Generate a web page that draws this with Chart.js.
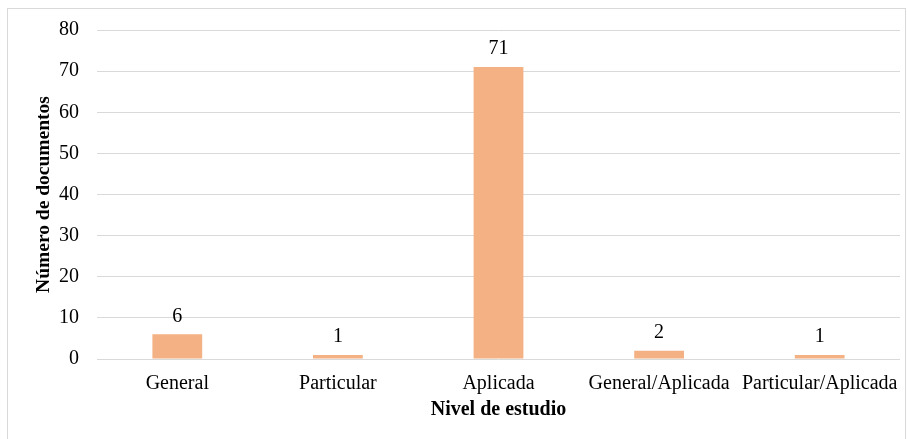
<!DOCTYPE html>
<html>
<head>
<meta charset="utf-8">
<script src="https://cdn.jsdelivr.net/npm/chart.js@4/dist/chart.umd.min.js"></script>
<style>
  html, body { margin: 0; padding: 0; background: #fff; }
  #wrap { position: relative; width: 907px; height: 439px; }
</style>
</head>
<body>
<div id="wrap"><canvas id="grafico" width="907" height="439"></canvas></div>
<script>
// Datos del gráfico
const categorias = ["General", "Particular", "Aplicada", "General/Aplicada", "Particular/Aplicada"];
const documentos = [6, 1, 71, 2, 1];
const ticksY = [0, 10, 20, 30, 40, 50, 60, 70, 80];

const fuente = "'Liberation Serif', 'Times New Roman', serif";
const gris = '#d9d9d9';

// Marco exterior del gráfico
const marco = {
    id: 'marco',
    beforeDraw(chart) {
        const ctx = chart.ctx;
        ctx.save();
        ctx.strokeStyle = gris;
        ctx.lineWidth = 1;
        ctx.strokeRect(7.5, 8.5, 898, 440);
        ctx.restore();
    }
};

// Etiquetas de valor encima de las barras
const etiquetas = {
    id: 'etiquetas',
    afterDatasetsDraw(chart) {
        const ctx = chart.ctx;
        const meta = chart.getDatasetMeta(0);
        ctx.save();
        ctx.font = "20px " + fuente;
        ctx.fillStyle = '#000';
        ctx.textAlign = 'center';
        ctx.textBaseline = 'middle';
        meta.data.forEach((bar, i) => {
            ctx.fillText(documentos[i], bar.x, bar.y - 18);
        });
        ctx.restore();
    }
};

new Chart(document.getElementById("grafico").getContext('2d'), {
    type: 'bar',
    data: {
        labels: categorias,
        datasets: [{
            label: "Número de documentos",
            data: documentos,
            backgroundColor: '#f4b183',
            borderWidth: 0,
            categoryPercentage: 1,
            barPercentage: 0.31
        }]
    },
    options: {
        responsive: false,
        animation: false,
        layout: { padding: { left: 0, right: 7, top: 29, bottom: 0 } },
        plugins: {
            legend: { display: false },
            tooltip: { enabled: false }
        },
        scales: {
            x: {
                grid: { display: false, drawTicks: false },
                border: { display: false },
                ticks: { color: '#000', font: { family: fuente, size: 20 }, padding: 13, maxRotation: 0, autoSkip: false },
                title: {
                    display: true,
                    text: "Nivel de estudio",
                    color: '#000',
                    font: { family: fuente, size: 20, weight: 'bold' },
                    padding: { top: 0, bottom: 17 }
                },
                afterFit(scale) {
                    scale.height = 80;
                    scale.paddingLeft = 0;
                    scale.paddingRight = 0;
                }
            },
            y: {
                min: 0,
                max: 80,
                afterBuildTicks(scale) { scale.ticks = ticksY.map(v => ({ value: v })); },
                grid: { color: gris, lineWidth: 1, drawTicks: false },
                border: { display: false },
                ticks: { color: '#000', font: { family: fuente, size: 20 }, padding: 18 },
                title: {
                    display: true,
                    text: "Número de documentos",
                    color: '#000',
                    font: { family: fuente, size: 19.5, weight: 'bold' },
                    padding: { top: 32, bottom: 0 }
                },
                afterFit(scale) { scale.width = 97; }
            }
        }
    },
    plugins: [marco, etiquetas]
});
</script>
</body>
</html>
